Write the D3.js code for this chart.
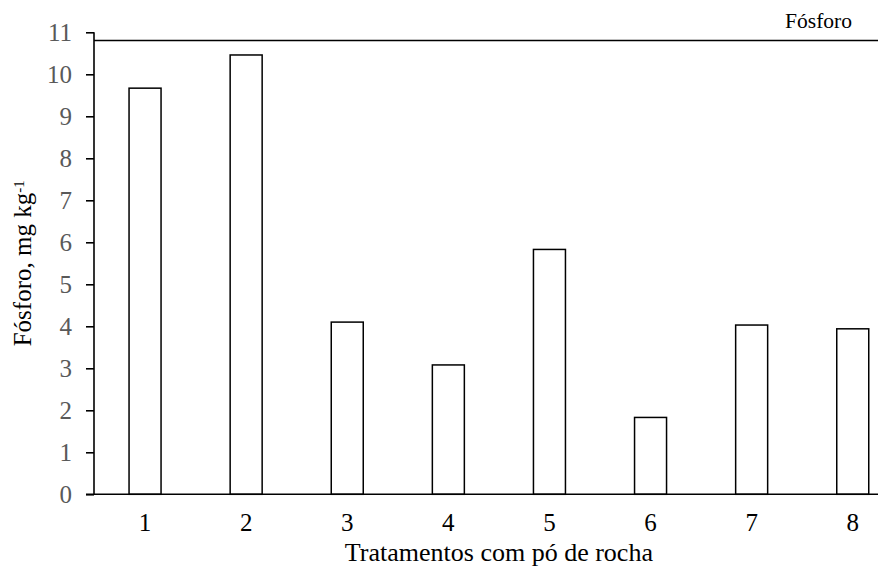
<!DOCTYPE html>
<html>
<head>
<meta charset="utf-8">
<script src="https://cdn.jsdelivr.net/npm/d3@7/dist/d3.min.js"></script>
<style>
  html, body { margin: 0; padding: 0; background: #fff; }
  svg { display: block; }
  text { font-family: "Liberation Serif", "Times New Roman", serif; }
</style>
</head>
<body>
<svg id="chart" width="889" height="567"></svg>
<script>
const categories = ["1", "2", "3", "4", "5", "6", "7", "8"];
const values = [9.67, 10.46, 4.10, 3.08, 5.83, 1.83, 4.03, 3.94];
const yTicks = [0, 1, 2, 3, 4, 5, 6, 7, 8, 9, 10, 11];
const seriesName = "Fósforo";
const xTitle = "Tratamentos com pó de rocha";
const yTitle = "Fósforo, mg kg";
const yTitleSup = "-1";

const FONT = "'Liberation Serif', 'Times New Roman', serif";
const svg = d3.select("#chart");
const plot = { left: 94, right: 878, top: 32.3, bottom: 494.3, bandEnd: 903.3 };

const y = d3.scaleLinear().domain([0, 11]).range([plot.bottom, plot.top]);
const pIn = 1 - 32 / 101.1;
const x = d3.scaleBand().domain(categories).range([94.5, plot.bandEnd])
  .paddingInner(pIn).paddingOuter(pIn / 2);

// top frame line
svg.append("line")
  .attr("x1", plot.left).attr("x2", plot.right)
  .attr("y1", 40.5).attr("y2", 40.5)
  .attr("stroke", "#000").attr("stroke-width", 1.3);

// bars
svg.append("g").selectAll("rect")
  .data(values)
  .join("rect")
  .attr("x", (d, i) => x(categories[i]))
  .attr("y", d => y(d))
  .attr("width", x.bandwidth())
  .attr("height", d => y(0) - y(d))
  .attr("fill", "#fff")
  .attr("stroke", "#000")
  .attr("stroke-width", 1.5);

// y axis
const yAxis = d3.axisLeft(y).tickValues(yTicks).tickSize(8).tickPadding(14).tickFormat(d3.format("d"));
const gy = svg.append("g").attr("transform", `translate(${plot.left},0)`).call(yAxis)
  .attr("font-family", FONT);
gy.select(".domain").attr("stroke", "#000").attr("stroke-width", 1.6)
  .attr("d", `M0,${plot.top}V${plot.bottom}`);
gy.selectAll(".tick line").attr("stroke", "#000").attr("stroke-width", 1.6);
gy.selectAll(".tick text").attr("fill", "#595959").style("font-size", "25px")
  .style("font-family", FONT).attr("dy", "0.34em");

// x axis
const xAxis = d3.axisBottom(x).tickSize(0);
const gx = svg.append("g").attr("transform", `translate(0,${plot.bottom})`).call(xAxis)
  .attr("font-family", FONT);
gx.select(".domain").attr("stroke", "#000").attr("stroke-width", 1.6)
  .attr("d", `M86,0H${plot.right}`);
gx.selectAll(".tick text").attr("fill", "#000").style("font-size", "25px")
  .style("font-family", FONT).attr("y", 36.5).attr("dy", 0);

// x title
svg.append("text")
  .attr("x", (94.5 + plot.bandEnd) / 2).attr("y", 560.5)
  .attr("text-anchor", "middle").style("font-size", "26px").attr("fill", "#000")
  .text(xTitle);

// y title
const yt = svg.append("text")
  .attr("transform", `translate(31,${(plot.top + plot.bottom) / 2}) rotate(-90)`)
  .attr("text-anchor", "middle").style("font-size", "25px").attr("fill", "#000");
yt.append("tspan").text(yTitle);
yt.append("tspan").attr("dy", "-0.45em").style("font-size", "15px").text(yTitleSup);

// series label
svg.append("text")
  .attr("x", 852).attr("y", 28)
  .attr("text-anchor", "end").style("font-size", "21.5px").attr("fill", "#000")
  .text(seriesName);
</script>
</body>
</html>
